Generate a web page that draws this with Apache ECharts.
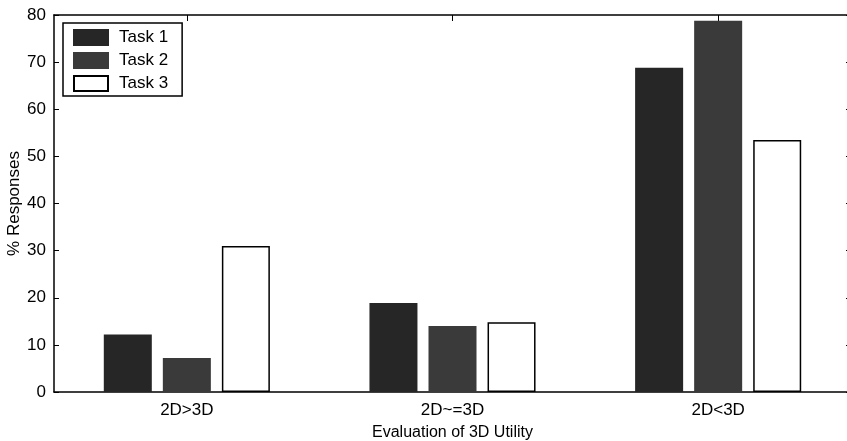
<!DOCTYPE html>
<html>
<head>
<meta charset="utf-8">
<script src="https://cdn.jsdelivr.net/npm/echarts@6/dist/echarts.min.js"></script>
<style>
  html, body { margin: 0; padding: 0; background: #fff; }
  #chart { width: 847px; height: 441px; }
</style>
</head>
<body>
<div id="chart"></div>
<script>
const categories = ['2D>3D', '2D~=3D', '2D<3D'];
const task1 = [12.2, 18.9, 68.8];
const task2 = [7.2, 14, 78.8];
const task3 = [31, 14.8, 53.5];
const yTicks = [0, 10, 20, 30, 40, 50, 60, 70, 80];

const fontFamily = '"Liberation Sans", Arial, Helvetica, sans-serif';
const seriesDefinitions = [
  { name: 'Task 1', values: task1, color: '#262626', border: '#262626' },
  { name: 'Task 2', values: task2, color: '#3a3a3a', border: '#3a3a3a' },
  { name: 'Task 3', values: task3, color: '#ffffff', border: '#000000' }
];

const chart = echarts.init(document.querySelector('#chart'), null, { renderer: 'canvas' });

const sharedY = {
  type: 'value',
  min: yTicks[0],
  max: yTicks[yTicks.length - 1],
  interval: 10,
  axisLine: { show: true, onZero: false, lineStyle: { color: '#000', width: 1.5 } },
  axisTick: { show: true, inside: true, length: 5, lineStyle: { color: '#000' } },
  splitLine: { show: false }
};

chart.setOption({
  animation: false,
  backgroundColor: '#fff',
  textStyle: { fontFamily },
  grid: { left: 54, top: 15, width: 797, height: 377, containLabel: false, outerBoundsMode: 'none' },
  legend: {
    orient: 'vertical',
    left: 63,
    top: 23,
    padding: [6, 14, 4, 10],
    itemGap: 6,
    itemWidth: 34,
    itemHeight: 15,
    borderColor: '#000',
    borderWidth: 1.5,
    backgroundColor: '#fff',
    textStyle: { fontSize: 17, lineHeight: 15, color: '#000', fontFamily, padding: [0, 0, 0, 6] },
    data: seriesDefinitions.map(d => ({ name: d.name, icon: 'rect' }))
  },
  xAxis: [
    {
      type: 'category',
      data: categories,
      position: 'bottom',
      name: 'Evaluation of 3D Utility',
      nameLocation: 'middle',
      nameGap: 33,
      nameMoveOverlap: false,
      nameTextStyle: { fontSize: 16, color: '#000', fontFamily },
      axisLine: { show: true, onZero: false, lineStyle: { color: '#000', width: 1.5 } },
      axisTick: { show: true, inside: true, alignWithLabel: true, length: 5, lineStyle: { color: '#000' } },
      axisLabel: { fontSize: 17, color: '#000', margin: 10, fontFamily }
    },
    {
      type: 'category',
      data: categories,
      position: 'top',
      axisLine: { show: true, onZero: false, lineStyle: { color: '#000', width: 1.5 } },
      axisTick: { show: true, inside: true, alignWithLabel: true, length: 6, lineStyle: { color: '#000' } },
      axisLabel: { show: false }
    }
  ],
  yAxis: [
    Object.assign({}, sharedY, {
      position: 'left',
      name: '% Responses',
      nameLocation: 'middle',
      nameGap: 31,
      nameMoveOverlap: false,
      nameTextStyle: { fontSize: 17, color: '#000', fontFamily },
      axisLabel: { fontSize: 17, color: '#000', margin: 8, fontFamily }
    }),
    Object.assign({}, sharedY, {
      position: 'right',
      axisLabel: { show: false }
    })
  ],
  series: seriesDefinitions.map(d => ({
    name: d.name,
    type: 'bar',
    data: d.values,
    barWidth: 48,
    barGap: '23%',
    itemStyle: { color: d.color, borderColor: d.border, borderWidth: 1.5 },
    emphasis: { disabled: true }
  }))
});
</script>
</body>
</html>
